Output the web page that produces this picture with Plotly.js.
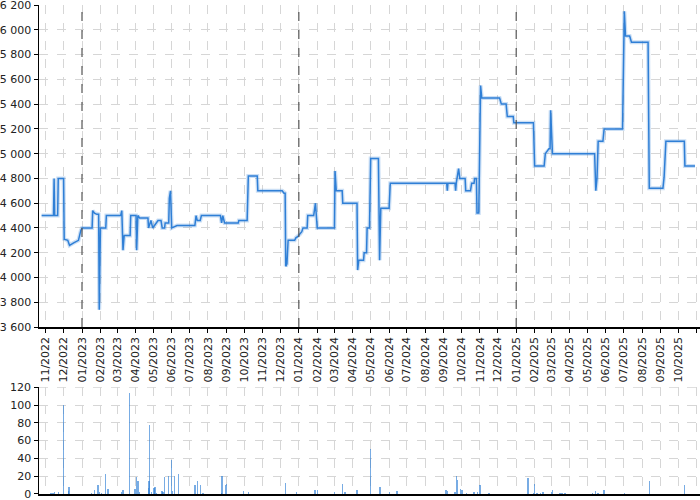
<!DOCTYPE html>
<html>
<head>
<meta charset="utf-8">
<script src="https://cdn.plot.ly/plotly-3.0.1.min.js"></script>
<style>
html,body{margin:0;padding:0;background:#fff}
#wrap{position:relative;width:700px;height:500px}
#chart{position:absolute;left:0;top:0;width:700px;height:500px}
#volTop{position:absolute;left:0;top:381px;width:31px;text-align:right;line-height:13px;font-family:'DejaVu Sans',sans-serif;font-size:11px;color:#222;z-index:50;pointer-events:none}
</style>
</head>
<body>
<div id="wrap"><div id="chart"></div><div id="volTop">120</div></div>
<script>
// Price history (step-like line)
const priceDates = [
 '2022-10-25','2022-11-14','2022-11-15','2022-11-16','2022-11-21','2022-11-22','2022-12-01','2022-12-02','2022-12-08','2022-12-11','2022-12-18','2022-12-26','2022-12-30',
 '2023-01-01','2023-01-18','2023-01-19','2023-01-22','2023-01-26','2023-01-29','2023-01-30','2023-02-01','2023-02-10','2023-02-11','2023-03-07','2023-03-09','2023-03-11','2023-03-13','2023-03-23','2023-03-24',
 '2023-04-02','2023-04-03','2023-04-05','2023-04-08','2023-04-22','2023-04-23','2023-04-27','2023-04-30','2023-05-03','2023-05-09','2023-05-14','2023-05-16','2023-05-20','2023-05-21','2023-05-27','2023-05-28','2023-05-30',
 '2023-06-01','2023-06-10','2023-07-10','2023-07-12','2023-07-14','2023-07-19','2023-07-21','2023-08-22','2023-08-24','2023-08-26','2023-08-29','2023-09-21','2023-09-22','2023-10-06','2023-10-08','2023-10-23','2023-10-24',
 '2023-12-04','2023-12-07','2023-12-09','2023-12-10','2023-12-12','2023-12-14','2023-12-25','2023-12-27','2023-12-30','2024-01-03','2024-01-06','2024-01-08','2024-01-15','2024-01-16','2024-01-26','2024-01-29','2024-02-01',
 '2024-03-01','2024-03-02','2024-03-04','2024-03-14','2024-03-15','2024-04-08','2024-04-09','2024-04-11','2024-04-19','2024-04-20','2024-04-24','2024-04-25','2024-04-29','2024-05-01','2024-05-14','2024-05-16','2024-05-18',
 '2024-06-01','2024-06-03','2024-09-06','2024-09-07','2024-09-08','2024-09-20','2024-09-21','2024-09-22','2024-09-26','2024-09-28','2024-10-07','2024-10-08','2024-10-16','2024-10-18','2024-10-22','2024-10-23','2024-10-26','2024-10-27','2024-10-30',
 '2024-11-02','2024-11-04','2024-12-04','2024-12-07','2024-12-15','2024-12-17','2024-12-27','2024-12-28','2025-01-30','2025-02-01','2025-02-17','2025-02-19','2025-02-25','2025-02-27','2025-02-28','2025-03-03',
 '2025-05-13','2025-05-15','2025-05-17','2025-05-19','2025-05-27','2025-05-29','2025-06-29','2025-07-02','2025-07-04','2025-07-11','2025-07-14','2025-08-11','2025-08-13','2025-09-05','2025-09-07','2025-09-10','2025-10-11','2025-10-12','2025-10-29'
];
const priceValues = [
 4500,4500,4800,4500,4500,4800,4800,4310,4300,4260,4280,4300,4380,
 4400,4400,4540,4520,4510,4510,3740,4400,4400,4500,4500,4540,4220,4340,4340,4500,
 4500,4220,4500,4480,4480,4400,4460,4400,4420,4460,4460,4400,4400,4440,4440,4640,4700,
 4400,4420,4420,4500,4460,4460,4500,4500,4440,4500,4440,4440,4460,4460,4820,4820,4700,
 4700,4680,4680,4090,4110,4300,4300,4320,4330,4350,4370,4400,4400,4500,4500,4600,4400,
 4400,4860,4700,4700,4600,4600,4060,4140,4140,4200,4200,4400,4400,4960,4960,4140,4560,
 4560,4760,4760,4700,4760,4760,4700,4760,4880,4800,4800,4700,4700,4760,4760,4800,4800,4520,4520,
 5550,5450,5450,5400,5400,5300,5300,5250,5250,4900,4900,5000,5040,5040,5350,5000,
 5000,4700,4800,5100,5100,5200,5200,6150,5950,5950,5900,5900,4720,4720,4810,5100,5100,4900,4900
];

// Volume bars
const volDates = [
 '2022-11-10','2022-11-13','2022-11-16','2022-11-22','2022-12-01','2022-12-09','2022-12-10',
 '2023-01-17','2023-01-22','2023-01-28','2023-01-30','2023-02-03','2023-02-10','2023-02-14','2023-03-08','2023-03-11','2023-03-22','2023-03-31',
 '2023-04-03','2023-04-05','2023-04-08','2023-04-23','2023-04-24','2023-04-25','2023-04-28','2023-05-02','2023-05-04','2023-05-06','2023-05-16','2023-05-17','2023-05-20','2023-05-27',
 '2023-06-01','2023-06-02','2023-06-06','2023-06-12','2023-07-10','2023-07-14','2023-07-19','2023-07-24','2023-08-24','2023-08-25','2023-08-31','2023-09-01','2023-09-30','2023-10-08','2023-12-10','2023-12-28',
 '2024-01-28','2024-02-01','2024-03-01','2024-03-15','2024-03-19','2024-04-08','2024-05-01','2024-05-17','2024-06-02','2024-06-14','2024-09-05','2024-09-07','2024-09-20','2024-09-22','2024-09-24','2024-09-29',
 '2024-10-02','2024-10-09','2024-10-22','2024-10-28','2024-11-01','2024-11-16','2025-01-21','2025-01-30','2025-02-01','2025-02-05','2025-02-11','2025-02-15','2025-03-01','2025-03-03','2025-03-16','2025-03-19','2025-03-24',
 '2025-05-09','2025-05-14','2025-05-19','2025-05-29','2025-07-02','2025-08-13','2025-10-11'
];
const volValues = [
 1,1,2,2,100,3,8,
 1,5,10,2,1,23,6,2,5,114,6,
 19,15,2,7,15,78,2,7,8,1,3,2,19,20,
 38,3,20,22,10,15,10,1,1,20,10,11,3,2,12,2,
 5,4,2,11,2,4,51,8,2,3,5,3,2,20,16,6,
 5,1,2,2,10,1,18,1,11,1,1,2,2,4,1,1,1,
 1,3,1,4,1,15,10
];
const volTicks = [0, 20, 40, 60, 80, 100, 120];
const volMax = 120;

const yearLines = ['2023-01-01','2024-01-01','2025-01-01'];

const blue = '#2f7fd6';
const font = {family: 'DejaVu Sans, sans-serif', size: 11, color: '#222'};

const traces = [
 {x: priceDates, y: priceValues, type: 'scatter', mode: 'lines', xaxis: 'x', yaxis: 'y',
  line: {color: 'rgba(47,127,214,0.25)', width: 4}, hoverinfo: 'skip', showlegend: false},
 {x: priceDates, y: priceValues, type: 'scatter', mode: 'lines', xaxis: 'x', yaxis: 'y',
  line: {color: blue, width: 1.5}, showlegend: false},
 {x: volDates, y: volValues, type: 'bar', xaxis: 'x2', yaxis: 'y2',
  width: 2.4 * 86400000, marker: {color: 'rgba(47,127,214,0.65)', line: {width: 0}}, showlegend: false}
];

const xRange = ['2022-10-20 14:00', '2025-11-06 10:00'];
const gridX = {showgrid: true, gridcolor: '#d6d6d6', griddash: 'dash', gridwidth: 1};

const shapes = yearLines.map(d => ({
 type: 'line', xref: 'x', yref: 'y domain', x0: d, x1: d, y0: 0, y1: 1,
 line: {color: '#555', width: 1.2, dash: 'dash'}, layer: 'above'
}));
shapes.push({type: 'line', xref: 'paper', yref: 'y2', x0: 0, x1: 1, y0: volMax, y1: volMax,
 line: {color: '#d6d6d6', width: 1, dash: 'dash'}, layer: 'below'});

const layout = {
 width: 700, height: 500,
 margin: {l: 39, r: 0, t: 5, b: 6},
 paper_bgcolor: 'rgba(0,0,0,0)', plot_bgcolor: 'rgba(0,0,0,0)',
 font: font,
 separators: '. ',
 showlegend: false,
 bargap: 0,
 xaxis: Object.assign({
  type: 'date', range: xRange, domain: [0, 1], anchor: 'y',
  tick0: '2022-11-01', dtick: 'M1', tickformat: '%m/%Y', tickangle: -90,
  ticks: 'outside', ticklen: 4, tickcolor: '#000',
  showline: true, linecolor: '#000', linewidth: 1.5, zeroline: false,
  tickfont: font
 }, gridX),
 yaxis: Object.assign({
  domain: [0.3415, 1], anchor: 'x', range: [3600, 6200.5], tick0: 3600, dtick: 200,
  separatethousands: true, tickformat: ',d',
  ticks: 'outside', ticklen: 4, tickcolor: '#000',
  showline: true, linecolor: '#000', linewidth: 1.5, zeroline: false,
  tickfont: font, ticklabeloverflow: 'allow'
 }, gridX),
 xaxis2: Object.assign({
  type: 'date', range: xRange, domain: [0, 1], anchor: 'y2', matches: 'x',
  tick0: '2022-11-01', dtick: 'M1', showticklabels: false,
  ticks: '', showline: true, linecolor: '#000', linewidth: 1.5, zeroline: false
 }, gridX),
 yaxis2: Object.assign({
  domain: [0, 0.2188], anchor: 'x2', range: [0, 120.3],
  tickmode: 'array', tickvals: volTicks, ticktext: volTicks.map(v => v === volMax ? '' : String(v)),
  ticks: 'outside', ticklen: 4, tickcolor: '#000',
  showline: true, linecolor: '#000', linewidth: 1.5, zeroline: false,
  tickfont: font, ticklabeloverflow: 'allow'
 }, gridX),
 shapes: shapes
};

Plotly.newPlot('chart', traces, layout, {displayModeBar: false, staticPlot: true});
</script>
</body>
</html>
